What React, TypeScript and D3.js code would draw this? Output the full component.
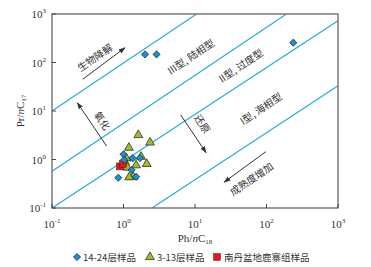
import React from 'react';
import * as d3 from 'd3';

const width = 371;
const height = 267;
const margin = { top: 14, right: 33, bottom: 59, left: 52 };

// sample values (Ph/nC18, Pr/nC17)
const layers1424 = [
  [2.0, 147], [2.9, 147], [237, 256],
  [1.0, 1.28], [1.35, 1.06], [1.02, 0.98], [1.7, 1.07],
  [1.3, 0.61], [0.845, 0.42], [1.5, 0.44],
];
const layers313 = [
  [1.61, 3.2], [1.19, 1.75], [2.35, 2.24], [1.76, 1.14], [1.1, 1.05],
  [1.05, 0.88], [1.5, 0.76], [2.11, 0.81], [1.14, 0.68], [1.37, 0.44], [1.2, 0.43],
];
const nandan = [[0.89, 0.72], [0.98, 0.81]];

// classification lines (end points)
const boundaries = [
  [[0.1, 10], [10.5, 1000]],
  [[0.1, 0.57], [190, 1000]],
  [[0.1, 0.1], [1000, 725]],
  [[2.5, 0.1], [1000, 33]],
];

const arrows = [
  [[0.268, 45], [1.05, 202]],
  [[0.58, 1.9], [0.226, 14.8]],
  [[6.3, 8.3], [14.3, 1.38]],
  [[98, 1.45], [25.5, 0.34]],
];

const labels = [
  { text: '生物降解', at: [0.4, 125], rot: -34 },
  { text: '氧化', at: [0.5, 6.3], rot: 56 },
  { text: '还原', at: [12.6, 5.4], rot: 56 },
  { text: '成熟度增加', at: [62, 0.39], rot: -34 },
  { text: 'III型, 陆相型', at: [8.8, 130], rot: -34 },
  { text: 'II型, 过度型', at: [44, 85], rot: -34 },
  { text: 'I型, 海相型', at: [84, 11], rot: -34 },
];

const xTicks = [0.1, 1, 10, 100, 1000];
const yTicks = [0.1, 1, 10, 100, 1000];
const tickExp = (v: number) => String(Math.round(Math.log10(v)));

const lineColor = '#29abe2';
const diamondFill = '#1b8fd2';
const triFill = '#9cbf2e';
const redFill = '#e3161d';
const ink = '#333';
const cjk = '"Noto Sans CJK SC", sans-serif';
const serif = '"Liberation Serif", "Times New Roman", serif';

const diamond = 'M0,-3.6L3.6,0L0,3.6L-3.6,0Z';

export default function App() {
  const x = d3.scaleLog().domain([0.1, 1000]).range([margin.left, width - margin.right]);
  const y = d3.scaleLog().domain([0.1, 1000]).range([height - margin.bottom, margin.top]);
  const x0 = margin.left, x1 = width - margin.right;
  const y0 = height - margin.bottom, y1 = margin.top;

  const tri = d3.symbol().type(d3.symbolTriangle).size(34)();

  return (
    <svg width={width} height={height} style={{ position: 'absolute', left: 0, top: 0 }}>
      <defs>
        <marker id="ah" viewBox="0 0 10 10" refX="9" refY="5" markerWidth="7" markerHeight="7" orient="auto">
          <path d="M0,1.5 L10,5 L0,8.5 z" fill={ink} />
        </marker>
        <clipPath id="plot">
          <rect x={x0} y={y1} width={x1 - x0} height={y0 - y1} />
        </clipPath>
      </defs>

      <g clipPath="url(#plot)">
        {boundaries.map((b, i) => (
          <line key={i} x1={x(b[0][0])} y1={y(b[0][1])} x2={x(b[1][0])} y2={y(b[1][1])}
            stroke={lineColor} strokeWidth={1.2} />
        ))}
      </g>

      {arrows.map((a, i) => (
        <line key={i} x1={x(a[0][0])} y1={y(a[0][1])} x2={x(a[1][0])} y2={y(a[1][1])}
          stroke={ink} strokeWidth={1} markerEnd="url(#ah)" />
      ))}

      {labels.map((l) => (
        <text key={l.text} fontFamily={cjk} fontSize={10} fill={ink} textAnchor="middle"
          dy="0.35em"
          transform={`translate(${x(l.at[0])},${y(l.at[1])}) rotate(${l.rot})`}>
          {l.text}
        </text>
      ))}

      {layers313.map((d, i) => (
        <path key={'t' + i} d={tri} transform={`translate(${x(d[0])},${y(d[1])})`}
          fill={triFill} stroke="#1a1a1a" strokeWidth={0.7} />
      ))}
      {nandan.map((d, i) => (
        <rect key={'r' + i} x={x(d[0]) - 3.5} y={y(d[1]) - 3.5} width={7} height={7}
          fill={redFill} stroke="#1a1a1a" strokeWidth={0.4} />
      ))}
      {layers1424.map((d, i) => (
        <path key={'d' + i} d={diamond} transform={`translate(${x(d[0])},${y(d[1])})`}
          fill={diamondFill} stroke="#1a1a1a" strokeWidth={0.7} />
      ))}

      <rect x={x0} y={y1} width={x1 - x0} height={y0 - y1} fill="none" stroke="#666" strokeWidth={1.3} />

      {xTicks.map((t) => (
        <g key={'x' + t} transform={`translate(${x(t)},${y0})`}>
          <line y2={-4} stroke="#444" />
          <text y={20} textAnchor="middle" fontFamily={serif} fontSize={11} fill={ink}>
            10<tspan dy={-5} fontSize={7}>{tickExp(t)}</tspan>
          </text>
        </g>
      ))}
      {yTicks.map((t) => (
        <g key={'y' + t} transform={`translate(${x0},${y(t)})`}>
          <line x2={4} stroke="#444" />
          <text x={-6} dy={4} textAnchor="end" fontFamily={serif} fontSize={11} fill={ink}>
            10<tspan dy={-5} fontSize={7}>{tickExp(t)}</tspan>
          </text>
        </g>
      ))}

      <text x={(x0 + x1) / 2} y={242} textAnchor="middle" fontFamily={serif} fontSize={11} fill={ink}>
        Ph/<tspan fontStyle="italic">n</tspan>C<tspan fontSize={7} dy={2}>18</tspan>
      </text>
      <text transform={`translate(24,${(y0 + y1) / 2}) rotate(-90)`} textAnchor="middle"
        fontFamily={serif} fontSize={11} fill={ink}>
        Pr/<tspan fontStyle="italic">n</tspan>C<tspan fontSize={7} dy={2}>17</tspan>
      </text>

      <g transform="translate(0,257)">
        <path d={diamond} transform="translate(77,0)" fill={diamondFill} stroke="#1a1a1a" strokeWidth={0.7} />
        <text x={83} dy={3.5} fontFamily={cjk} fontSize={9.5} fill={ink}>14-24层样品</text>
        <path d={tri} transform="translate(150,0)" fill={triFill} stroke="#1a1a1a" strokeWidth={0.7} />
        <text x={157} dy={3.5} fontFamily={cjk} fontSize={9.5} fill={ink}>3-13层样品</text>
        <rect x={213.5} y={-3.5} width={7} height={7} fill={redFill} stroke="#1a1a1a" strokeWidth={0.4} />
        <text x={224} dy={3.5} fontFamily={cjk} fontSize={9.5} fill={ink}>南丹盆地鹿寨组样品</text>
      </g>
    </svg>
  );
}
